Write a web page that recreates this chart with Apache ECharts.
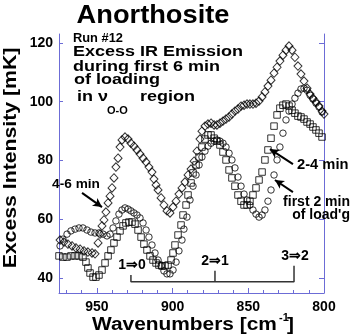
<!DOCTYPE html>
<html><head><meta charset="utf-8">
<script src="https://cdn.jsdelivr.net/npm/echarts@6/dist/echarts.min.js"></script>
<style>html,body{margin:0;padding:0;background:#fff}#c{width:353px;height:336px}</style>
</head><body><div id="c"></div>
<script>
// ---- data (wavenumber cm^-1, excess intensity mK) ----
const min46X = [974.3,971.7,969.1,966.4,963.8,961.1,958.5,955.9,953.2,951.2,949.2,947.9,946.6,945.3,944.0,942.6,941.3,940.0,938.7,937.4,936.0,934.7,933.4,931.4,929.4,927.5,925.5,923.5,921.5,919.5,917.5,915.6,913.6,912.3,910.9,909.6,907.6,905.7,903.7,901.7,899.7,897.7,895.8,893.8,891.8,889.8,887.8,885.8,883.9,881.9,880.6,878.6,876.6,874.6,872.6,870.7,868.7,866.7,864.7,862.7,860.8,858.8,856.8,854.8,852.8,850.8,848.9,846.9,844.9,842.9,840.9,839.0,837.0,835.0,833.0,831.0,829.1,827.1,825.1,823.1,821.1,819.2,817.2,815.2,813.2,811.2,809.2,807.3,805.3,803.3,801.3,800.0];
const min46Y = [53.0,52.3,51.6,51.0,50.3,49.9,49.3,48.9,48.6,48.3,52.0,55.0,57.8,59.8,62.5,65.6,67.9,70.7,74.1,77.8,80.8,84.6,87.0,88.0,87.3,85.9,84.9,83.6,82.2,80.8,79.5,77.8,76.1,73.7,71.7,70.0,67.3,64.9,62.9,62.2,64.2,66.2,68.6,70.7,72.7,75.1,77.1,79.8,83.2,87.3,90.0,91.7,92.4,92.7,92.1,92.1,92.7,93.4,94.1,94.8,95.8,96.8,97.5,98.5,98.8,99.2,99.2,99.2,99.5,100.2,101.6,103.3,105.3,107.3,109.7,111.7,113.8,115.8,117.5,118.9,117.5,115.1,112.1,109.4,107.0,104.6,102.6,101.2,99.9,98.5,96.8,95.8];

const min24X = [975.0,972.4,969.7,967.1,964.4,961.8,959.2,957.2,955.9,954.5,952.5,950.6,948.6,946.6,944.6,942.6,940.7,938.7,936.7,934.7,932.7,930.8,928.8,926.8,924.8,922.8,920.8,918.9,916.9,914.9,912.9,910.9,909.0,907.0,905.0,903.0,901.0,899.7,898.4,896.4,894.4,893.1,891.1,889.8,887.8,886.5,884.5,882.5,880.6,878.6,876.6,874.6,872.6,870.7,868.7,866.7,864.7,862.7,860.8,858.8,856.8,854.8,852.8,850.8,848.9,846.9,844.9,842.9,840.9,839.0,837.0,835.0,833.0,831.0,829.1,827.1,825.1,823.1,821.1,819.2,817.2,815.2,813.2,811.2,809.2,807.3,805.3,803.3,801.3];
const min24Y = [47.6,47.2,47.2,47.6,47.6,47.6,47.2,45.5,43.5,41.8,40.4,40.4,41.1,42.8,45.2,47.6,49.6,52.0,54.0,56.1,57.8,58.8,59.1,59.1,58.4,56.4,54.0,51.6,49.6,47.6,46.2,45.2,44.5,44.2,44.2,44.5,46.2,48.6,51.3,54.7,58.1,61.5,64.9,68.3,72.4,75.8,78.5,81.2,84.6,87.3,88.7,88.7,87.6,86.6,85.3,82.9,80.2,76.8,74.1,71.3,68.3,66.2,64.9,64.9,66.2,68.3,70.7,73.4,76.1,80.2,83.6,87.6,91.7,95.5,97.8,98.8,99.2,98.5,97.1,96.1,95.1,94.8,94.1,93.1,92.4,91.4,90.4,89.3,88.0];

const min02X = [974.3,972.4,969.7,967.1,964.4,961.8,959.2,956.5,953.9,951.2,948.6,945.9,943.3,941.3,939.3,937.4,935.4,933.4,931.4,929.4,927.5,925.5,923.5,921.5,919.5,917.5,915.6,913.6,911.6,909.6,907.6,905.7,903.7,901.7,899.7,897.7,895.8,893.8,892.5,890.5,888.5,886.5,884.5,882.5,880.6,878.6,876.6,874.6,872.6,870.7,868.7,866.7,864.7,862.7,860.8,858.8,856.8,854.8,852.8,850.8,848.9,846.9,844.9,842.9,840.9,839.0,837.0,835.0,833.0,831.0,829.1,827.1,825.1,823.1,821.1,819.2,817.2,815.2,813.2,811.2,809.2,807.3,805.3,803.3,801.3];
const min02Y = [51.0,53.3,55.0,56.1,56.7,57.1,57.1,56.4,55.7,55.4,55.4,55.0,54.4,55.0,57.1,59.5,61.8,63.2,63.9,63.5,62.9,62.2,61.5,60.5,58.8,56.4,54.0,51.3,48.6,46.2,44.2,42.5,41.5,41.5,42.8,45.5,49.3,53.0,56.7,60.8,66.6,71.3,75.1,78.5,81.2,83.2,84.9,85.9,86.6,87.0,86.6,85.9,84.6,82.5,80.2,77.5,74.4,71.3,68.6,66.6,64.9,63.2,61.8,60.8,61.5,63.2,66.2,70.0,75.1,80.2,84.6,89.3,93.8,96.8,99.2,101.2,102.9,104.3,104.6,103.9,102.2,100.9,99.5,98.2,96.5];

// axis ticks
const xTickLabels = [800, 850, 900, 950];
const xMinorTicks = [810, 820, 830, 840, 860, 870, 880, 890, 910, 920, 930, 940, 960, 970];
const yTickLabels = [40, 60, 80, 100, 120];

// vibrational transition bracket
const transLabels = ['1\u21D20', '2\u21D21', '3\u21D22'];
const transX = [927.5, 872, 819.8];
const transTop = [41.1, 42.6, 44.3];
const transBase = 38.8;

// arrows [tailX, tailY, tipX, tipY]
const arrows = [
  [959.8, 69.0, 946.6, 64.2],
  [820.5, 78.8, 835.7, 83.9],
  [820.5, 69.3, 832.4, 73.4]
];

const AX = '#6c6cd6';
const FONT = '"Liberation Sans", Arial, Helvetica, sans-serif';

function pairs(xs, ys) { return xs.map((x, i) => [x, ys[i]]); }
function T(x, y, text, size, o) {
  o = o || {};
  return {
    type: 'text', x: x, y: y, scaleX: o.sx || 1, rotation: o.rot || 0, z: 100,
    style: {
      text: text, x: 0, y: 0, fill: '#000',
      font: 'bold ' + size + 'px ' + FONT,
      textAlign: o.align || 'left', align: o.align || 'left',
      textVerticalAlign: 'middle', verticalAlign: 'middle'
    }
  };
}

const chart = echarts.init(document.getElementById('c'), null, {renderer: 'canvas'});

const bracketMain = [[transX[0], transTop[0]], [transX[0], transBase], [transX[2], transBase], [transX[2], transTop[2]]];
const bracketMid = [[transX[1], transBase], [transX[1], transTop[1]]];

const hollow = (c) => ({color: 'rgba(0,0,0,0)', borderColor: c, borderWidth: 1});

chart.setOption({
  animation: false,
  backgroundColor: '#fff',
  grid: {left: 59, right: 29, top: 34, bottom: 43, containLabel: false},
  xAxis: [{
    type: 'value', min: 800, max: 975, inverse: true, position: 'bottom',
    axisLine: {show: true, lineStyle: {color: AX, width: 1}},
    axisTick: {show: true, inside: true, length: 5, lineStyle: {color: AX}, customValues: xTickLabels},
    axisLabel: {show: true, margin: 7, color: '#000', fontSize: 14, fontWeight: 'bold', fontFamily: FONT, customValues: xTickLabels},
    splitLine: {show: false}
  }, {
    type: 'value', min: 800, max: 975, inverse: true, position: 'bottom',
    axisLine: {show: false},
    axisTick: {show: true, inside: true, length: 3, lineStyle: {color: AX}, customValues: xMinorTicks},
    axisLabel: {show: false},
    splitLine: {show: false}
  }],
  yAxis: [{
    type: 'value', min: 35, max: 123, position: 'left',
    axisLine: {show: true, lineStyle: {color: AX, width: 1}},
    axisTick: {show: true, inside: true, length: 4, lineStyle: {color: AX}, customValues: yTickLabels},
    axisLabel: {show: true, margin: 6, color: '#000', fontSize: 14, fontWeight: 'bold', fontFamily: FONT, customValues: yTickLabels},
    splitLine: {show: false}
  }, {
    type: 'value', min: 35, max: 123, position: 'right',
    axisLine: {show: true, lineStyle: {color: AX, width: 1}},
    axisTick: {show: true, inside: true, length: 5, lineStyle: {color: AX}, customValues: yTickLabels},
    axisLabel: {show: false},
    splitLine: {show: false}
  }],
  series: [
    {type: 'line', data: bracketMain, showSymbol: false, symbol: 'none', silent: true,
     lineStyle: {color: '#333', width: 1.5}, z: 1},
    {type: 'line', data: bracketMid, showSymbol: false, symbol: 'none', silent: true,
     lineStyle: {color: '#333', width: 1.5}, z: 1},
    {name: '4-6 min', type: 'scatter', data: pairs(min46X, min46Y), symbol: 'diamond', symbolSize: [8, 8.5],
     itemStyle: hollow('#000'), silent: true, z: 2,
     markLine: {
       silent: true, symbol: ['none', 'arrow'], symbolSize: [7, 9], label: {show: false},
       lineStyle: {color: '#000', width: 2, type: 'solid'},
       data: arrows.map(a => [{coord: [a[0], a[1]]}, {coord: [a[2], a[3]]}])
     }},
    {name: '2-4 min', type: 'scatter', data: pairs(min24X, min24Y), symbol: 'rect', symbolSize: 6.5,
     itemStyle: hollow('#000'), silent: true, z: 3},
    {name: 'first 2 min', type: 'scatter', data: pairs(min02X, min02Y), symbol: 'circle', symbolSize: 6.5,
     itemStyle: hollow('#000'), silent: true, z: 4}
  ],
  graphic: [
    T(153, 16, 'Anorthosite', 25, {align: 'center', sx: 1.09}),
    T(73, 39, 'Run #12', 12, {sx: 1.07}),
    T(73, 52, 'Excess IR Emission', 15, {sx: 1.2}),
    T(73, 66.5, 'during first 6 min', 15, {sx: 1.2}),
    T(74, 80, 'of loading', 15, {sx: 1.2}),
    T(77, 97, 'in \u03BD', 15, {sx: 1.2}),
    T(107, 111, 'O-O', 11, {sx: 1.0}),
    T(140, 97, 'region', 15, {sx: 1.2}),
    T(76, 184.5, '4-6 min', 13, {align: 'center', sx: 1.05}),
    T(297, 165, '2-4 min', 14, {sx: 1.05}),
    T(350, 202, 'first 2 min', 14, {align: 'right'}),
    T(350, 215, "of load'g", 14, {align: 'right'}),
    T(132, 265, transLabels[0], 14, {align: 'center'}),
    T(215, 261.5, transLabels[1], 14, {align: 'center'}),
    T(295, 256, transLabels[2], 14, {align: 'center'}),
    T(11, 158, 'Excess Intensity [mK]', 18, {align: 'center', rot: Math.PI / 2, sx: 1.18}),
    T(92, 325, 'Wavenumbers [cm', 18, {sx: 1.16}),
    T(279, 318, '-1', 11, {}),
    T(287, 325, ']', 18, {sx: 1.16})
  ]
});
</script></body></html>
